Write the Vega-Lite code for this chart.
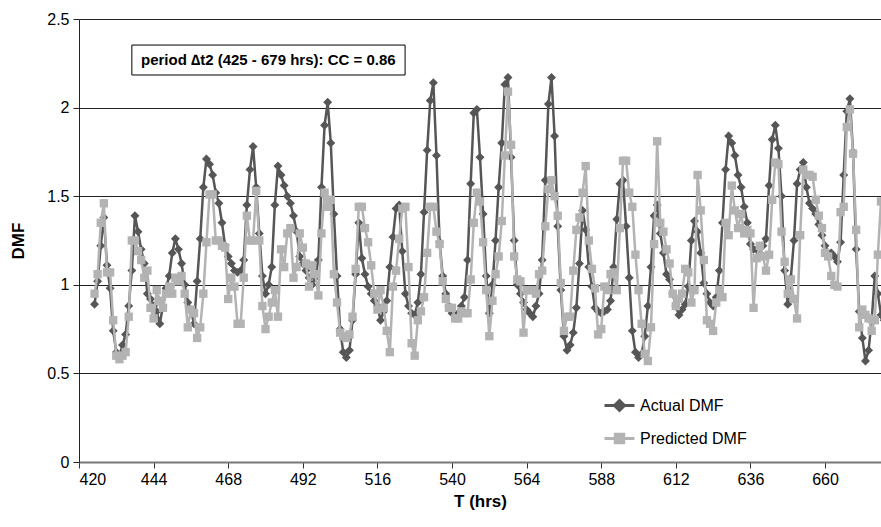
{
"$schema": "https://vega.github.io/schema/vega-lite/v6.json",
"width": 802, "height": 443,
"autosize": {"type": "none"},
"padding": {"left": 79, "top": 19, "right": 0, "bottom": 65},
"config": {"view": {"stroke": null}, "font": "Liberation Sans"},
"datasets": {
"dmf": [
{"t":425,"Actual DMF":0.89,"Predicted DMF":0.95},{"t":426,"Actual DMF":1.02,"Predicted DMF":1.06},{"t":427,"Actual DMF":1.22,"Predicted DMF":1.35},{"t":428,"Actual DMF":1.38,"Predicted DMF":1.46},{"t":429,"Actual DMF":1.11,"Predicted DMF":1.07},{"t":430,"Actual DMF":0.98,"Predicted DMF":1.07},{"t":431,"Actual DMF":0.74,"Predicted DMF":0.80},{"t":432,"Actual DMF":0.62,"Predicted DMF":0.60},{"t":433,"Actual DMF":0.60,"Predicted DMF":0.58},{"t":434,"Actual DMF":0.66,"Predicted DMF":0.60},
{"t":435,"Actual DMF":0.72,"Predicted DMF":0.62},{"t":436,"Actual DMF":0.88,"Predicted DMF":0.82},{"t":437,"Actual DMF":1.08,"Predicted DMF":1.25},{"t":438,"Actual DMF":1.39,"Predicted DMF":1.25},{"t":439,"Actual DMF":1.30,"Predicted DMF":1.19},{"t":440,"Actual DMF":1.20,"Predicted DMF":1.14},{"t":441,"Actual DMF":1.12,"Predicted DMF":1.04},{"t":442,"Actual DMF":0.95,"Predicted DMF":1.08},{"t":443,"Actual DMF":0.92,"Predicted DMF":0.87},{"t":444,"Actual DMF":0.88,"Predicted DMF":0.81},
{"t":445,"Actual DMF":0.85,"Predicted DMF":0.97},{"t":446,"Actual DMF":0.78,"Predicted DMF":0.91},{"t":447,"Actual DMF":0.88,"Predicted DMF":0.87},{"t":448,"Actual DMF":0.98,"Predicted DMF":0.95},{"t":449,"Actual DMF":1.05,"Predicted DMF":0.99},{"t":450,"Actual DMF":1.18,"Predicted DMF":0.95},{"t":451,"Actual DMF":1.26,"Predicted DMF":1.04},{"t":452,"Actual DMF":1.20,"Predicted DMF":1.02},{"t":453,"Actual DMF":1.12,"Predicted DMF":1.05},{"t":454,"Actual DMF":1.00,"Predicted DMF":0.95},
{"t":455,"Actual DMF":0.90,"Predicted DMF":0.76},{"t":456,"Actual DMF":0.86,"Predicted DMF":0.86},{"t":457,"Actual DMF":0.78,"Predicted DMF":0.84},{"t":458,"Actual DMF":1.02,"Predicted DMF":0.70},{"t":459,"Actual DMF":1.26,"Predicted DMF":0.76},{"t":460,"Actual DMF":1.55,"Predicted DMF":0.95},{"t":461,"Actual DMF":1.71,"Predicted DMF":1.24},{"t":462,"Actual DMF":1.68,"Predicted DMF":1.51},{"t":463,"Actual DMF":1.62,"Predicted DMF":1.51},{"t":464,"Actual DMF":1.52,"Predicted DMF":1.25},
{"t":465,"Actual DMF":1.46,"Predicted DMF":1.25},{"t":466,"Actual DMF":1.35,"Predicted DMF":1.22},{"t":467,"Actual DMF":1.22,"Predicted DMF":1.21},{"t":468,"Actual DMF":1.16,"Predicted DMF":0.92},{"t":469,"Actual DMF":1.12,"Predicted DMF":1.04},{"t":470,"Actual DMF":1.08,"Predicted DMF":0.99},{"t":471,"Actual DMF":1.07,"Predicted DMF":0.78},{"t":472,"Actual DMF":1.08,"Predicted DMF":0.78},{"t":473,"Actual DMF":1.14,"Predicted DMF":1.04},{"t":474,"Actual DMF":1.45,"Predicted DMF":1.39},
{"t":475,"Actual DMF":1.65,"Predicted DMF":1.25},{"t":476,"Actual DMF":1.78,"Predicted DMF":1.25},{"t":477,"Actual DMF":1.55,"Predicted DMF":1.53},{"t":478,"Actual DMF":1.29,"Predicted DMF":1.25},{"t":479,"Actual DMF":1.05,"Predicted DMF":0.88},{"t":480,"Actual DMF":0.95,"Predicted DMF":0.75},{"t":481,"Actual DMF":1.00,"Predicted DMF":0.82},{"t":482,"Actual DMF":1.10,"Predicted DMF":0.90},{"t":483,"Actual DMF":1.45,"Predicted DMF":0.97},{"t":484,"Actual DMF":1.67,"Predicted DMF":0.82},
{"t":485,"Actual DMF":1.62,"Predicted DMF":1.20},{"t":486,"Actual DMF":1.56,"Predicted DMF":1.10},{"t":487,"Actual DMF":1.50,"Predicted DMF":1.29},{"t":488,"Actual DMF":1.46,"Predicted DMF":1.32},{"t":489,"Actual DMF":1.39,"Predicted DMF":1.04},{"t":490,"Actual DMF":1.30,"Predicted DMF":1.10},{"t":491,"Actual DMF":1.16,"Predicted DMF":1.29},{"t":492,"Actual DMF":1.12,"Predicted DMF":1.21},{"t":493,"Actual DMF":1.08,"Predicted DMF":1.12},{"t":494,"Actual DMF":1.04,"Predicted DMF":0.99},
{"t":495,"Actual DMF":1.00,"Predicted DMF":1.11},{"t":496,"Actual DMF":1.04,"Predicted DMF":1.06},{"t":497,"Actual DMF":1.14,"Predicted DMF":0.94},{"t":498,"Actual DMF":1.55,"Predicted DMF":1.29},{"t":499,"Actual DMF":1.90,"Predicted DMF":1.52},{"t":500,"Actual DMF":2.03,"Predicted DMF":1.44},{"t":501,"Actual DMF":1.80,"Predicted DMF":1.48},{"t":502,"Actual DMF":1.40,"Predicted DMF":1.06},{"t":503,"Actual DMF":1.05,"Predicted DMF":0.90},{"t":504,"Actual DMF":0.75,"Predicted DMF":0.73},
{"t":505,"Actual DMF":0.62,"Predicted DMF":0.71},{"t":506,"Actual DMF":0.59,"Predicted DMF":0.70},{"t":507,"Actual DMF":0.63,"Predicted DMF":0.72},{"t":508,"Actual DMF":0.80,"Predicted DMF":0.82},{"t":509,"Actual DMF":1.06,"Predicted DMF":1.09},{"t":510,"Actual DMF":1.35,"Predicted DMF":1.44},{"t":511,"Actual DMF":1.15,"Predicted DMF":1.44},{"t":512,"Actual DMF":1.06,"Predicted DMF":1.32},{"t":513,"Actual DMF":0.99,"Predicted DMF":1.24},{"t":514,"Actual DMF":0.95,"Predicted DMF":1.11},
{"t":515,"Actual DMF":0.91,"Predicted DMF":0.95},{"t":516,"Actual DMF":0.88,"Predicted DMF":0.86},{"t":517,"Actual DMF":0.80,"Predicted DMF":0.97},{"t":518,"Actual DMF":0.85,"Predicted DMF":0.87},{"t":519,"Actual DMF":0.91,"Predicted DMF":0.74},{"t":520,"Actual DMF":1.10,"Predicted DMF":0.62},{"t":521,"Actual DMF":1.27,"Predicted DMF":0.99},{"t":522,"Actual DMF":1.43,"Predicted DMF":1.08},{"t":523,"Actual DMF":1.45,"Predicted DMF":1.26},{"t":524,"Actual DMF":1.19,"Predicted DMF":1.43},
{"t":525,"Actual DMF":0.95,"Predicted DMF":1.44},{"t":526,"Actual DMF":0.88,"Predicted DMF":1.10},{"t":527,"Actual DMF":0.84,"Predicted DMF":0.67},{"t":528,"Actual DMF":0.83,"Predicted DMF":0.60},{"t":529,"Actual DMF":0.90,"Predicted DMF":0.80},{"t":530,"Actual DMF":1.06,"Predicted DMF":0.85},{"t":531,"Actual DMF":1.41,"Predicted DMF":0.93},{"t":532,"Actual DMF":1.76,"Predicted DMF":1.18},{"t":533,"Actual DMF":2.04,"Predicted DMF":1.44},{"t":534,"Actual DMF":2.14,"Predicted DMF":1.44},
{"t":535,"Actual DMF":1.73,"Predicted DMF":1.30},{"t":536,"Actual DMF":1.24,"Predicted DMF":1.23},{"t":537,"Actual DMF":1.05,"Predicted DMF":1.02},{"t":538,"Actual DMF":0.95,"Predicted DMF":0.92},{"t":539,"Actual DMF":0.88,"Predicted DMF":0.87},{"t":540,"Actual DMF":0.84,"Predicted DMF":0.87},{"t":541,"Actual DMF":0.82,"Predicted DMF":0.81},{"t":542,"Actual DMF":0.84,"Predicted DMF":0.81},{"t":543,"Actual DMF":0.88,"Predicted DMF":0.85},{"t":544,"Actual DMF":0.93,"Predicted DMF":0.84},
{"t":545,"Actual DMF":1.14,"Predicted DMF":0.84},{"t":546,"Actual DMF":1.57,"Predicted DMF":1.03},{"t":547,"Actual DMF":1.97,"Predicted DMF":1.35},{"t":548,"Actual DMF":1.99,"Predicted DMF":1.52},{"t":549,"Actual DMF":1.72,"Predicted DMF":1.47},{"t":550,"Actual DMF":1.40,"Predicted DMF":1.24},{"t":551,"Actual DMF":1.05,"Predicted DMF":0.97},{"t":552,"Actual DMF":0.84,"Predicted DMF":0.71},{"t":553,"Actual DMF":1.00,"Predicted DMF":0.91},{"t":554,"Actual DMF":1.25,"Predicted DMF":1.06},
{"t":555,"Actual DMF":1.55,"Predicted DMF":1.16},{"t":556,"Actual DMF":1.80,"Predicted DMF":1.36},{"t":557,"Actual DMF":2.13,"Predicted DMF":1.73},{"t":558,"Actual DMF":2.17,"Predicted DMF":2.09},{"t":559,"Actual DMF":1.72,"Predicted DMF":1.79},{"t":560,"Actual DMF":1.25,"Predicted DMF":1.16},{"t":561,"Actual DMF":1.00,"Predicted DMF":1.03},{"t":562,"Actual DMF":0.95,"Predicted DMF":1.02},{"t":563,"Actual DMF":0.90,"Predicted DMF":0.73},{"t":564,"Actual DMF":0.86,"Predicted DMF":0.97},
{"t":565,"Actual DMF":0.84,"Predicted DMF":0.97},{"t":566,"Actual DMF":0.82,"Predicted DMF":0.97},{"t":567,"Actual DMF":0.88,"Predicted DMF":0.95},{"t":568,"Actual DMF":0.95,"Predicted DMF":1.06},{"t":569,"Actual DMF":1.14,"Predicted DMF":1.08},{"t":570,"Actual DMF":1.59,"Predicted DMF":1.33},{"t":571,"Actual DMF":2.02,"Predicted DMF":1.54},{"t":572,"Actual DMF":2.17,"Predicted DMF":1.59},{"t":573,"Actual DMF":1.84,"Predicted DMF":1.50},{"t":574,"Actual DMF":1.33,"Predicted DMF":1.39},
{"t":575,"Actual DMF":0.97,"Predicted DMF":1.01},{"t":576,"Actual DMF":0.71,"Predicted DMF":0.74},{"t":577,"Actual DMF":0.63,"Predicted DMF":0.82},{"t":578,"Actual DMF":0.66,"Predicted DMF":0.82},{"t":579,"Actual DMF":0.73,"Predicted DMF":1.08},{"t":580,"Actual DMF":0.87,"Predicted DMF":1.31},{"t":581,"Actual DMF":1.12,"Predicted DMF":1.38},{"t":582,"Actual DMF":1.42,"Predicted DMF":1.52},{"t":583,"Actual DMF":1.31,"Predicted DMF":1.67},{"t":584,"Actual DMF":1.10,"Predicted DMF":1.25},
{"t":585,"Actual DMF":0.99,"Predicted DMF":1.09},{"t":586,"Actual DMF":0.87,"Predicted DMF":0.98},{"t":587,"Actual DMF":0.85,"Predicted DMF":0.72},{"t":588,"Actual DMF":0.84,"Predicted DMF":0.75},{"t":589,"Actual DMF":0.85,"Predicted DMF":0.99},{"t":590,"Actual DMF":0.86,"Predicted DMF":0.97},{"t":591,"Actual DMF":0.91,"Predicted DMF":1.06},{"t":592,"Actual DMF":1.10,"Predicted DMF":1.07},{"t":593,"Actual DMF":1.37,"Predicted DMF":0.97},{"t":594,"Actual DMF":1.57,"Predicted DMF":1.32},
{"t":595,"Actual DMF":1.59,"Predicted DMF":1.70},{"t":596,"Actual DMF":1.33,"Predicted DMF":1.70},{"t":597,"Actual DMF":1.04,"Predicted DMF":1.52},{"t":598,"Actual DMF":0.74,"Predicted DMF":1.44},{"t":599,"Actual DMF":0.62,"Predicted DMF":1.17},{"t":600,"Actual DMF":0.59,"Predicted DMF":0.97},{"t":601,"Actual DMF":0.61,"Predicted DMF":0.78},{"t":602,"Actual DMF":0.71,"Predicted DMF":0.61},{"t":603,"Actual DMF":0.88,"Predicted DMF":0.57},{"t":604,"Actual DMF":1.10,"Predicted DMF":0.76},
{"t":605,"Actual DMF":1.39,"Predicted DMF":1.23},{"t":606,"Actual DMF":1.45,"Predicted DMF":1.81},{"t":607,"Actual DMF":1.29,"Predicted DMF":1.35},{"t":608,"Actual DMF":1.18,"Predicted DMF":1.30},{"t":609,"Actual DMF":1.06,"Predicted DMF":1.20},{"t":610,"Actual DMF":1.03,"Predicted DMF":1.12},{"t":611,"Actual DMF":0.95,"Predicted DMF":0.95},{"t":612,"Actual DMF":0.88,"Predicted DMF":0.88},{"t":613,"Actual DMF":0.83,"Predicted DMF":0.92},{"t":614,"Actual DMF":0.86,"Predicted DMF":0.95},
{"t":615,"Actual DMF":0.89,"Predicted DMF":1.09},{"t":616,"Actual DMF":0.99,"Predicted DMF":1.07},{"t":617,"Actual DMF":1.25,"Predicted DMF":0.90},{"t":618,"Actual DMF":1.36,"Predicted DMF":0.97},{"t":619,"Actual DMF":1.30,"Predicted DMF":1.62},{"t":620,"Actual DMF":1.18,"Predicted DMF":1.42},{"t":621,"Actual DMF":1.01,"Predicted DMF":1.14},{"t":622,"Actual DMF":0.95,"Predicted DMF":0.80},{"t":623,"Actual DMF":0.90,"Predicted DMF":0.78},{"t":624,"Actual DMF":0.88,"Predicted DMF":0.74},
{"t":625,"Actual DMF":0.93,"Predicted DMF":0.90},{"t":626,"Actual DMF":1.08,"Predicted DMF":0.97},{"t":627,"Actual DMF":1.35,"Predicted DMF":0.93},{"t":628,"Actual DMF":1.65,"Predicted DMF":1.35},{"t":629,"Actual DMF":1.84,"Predicted DMF":1.28},{"t":630,"Actual DMF":1.80,"Predicted DMF":1.56},{"t":631,"Actual DMF":1.73,"Predicted DMF":1.42},{"t":632,"Actual DMF":1.62,"Predicted DMF":1.32},{"t":633,"Actual DMF":1.55,"Predicted DMF":1.40},{"t":634,"Actual DMF":1.44,"Predicted DMF":1.29},
{"t":635,"Actual DMF":1.35,"Predicted DMF":1.31},{"t":636,"Actual DMF":1.23,"Predicted DMF":1.29},{"t":637,"Actual DMF":1.20,"Predicted DMF":0.87},{"t":638,"Actual DMF":1.20,"Predicted DMF":1.15},{"t":639,"Actual DMF":1.18,"Predicted DMF":1.22},{"t":640,"Actual DMF":1.22,"Predicted DMF":1.16},{"t":641,"Actual DMF":1.26,"Predicted DMF":1.08},{"t":642,"Actual DMF":1.56,"Predicted DMF":1.17},{"t":643,"Actual DMF":1.82,"Predicted DMF":1.48},{"t":644,"Actual DMF":1.90,"Predicted DMF":1.69},
{"t":645,"Actual DMF":1.77,"Predicted DMF":1.68},{"t":646,"Actual DMF":1.50,"Predicted DMF":1.30},{"t":647,"Actual DMF":1.08,"Predicted DMF":1.13},{"t":648,"Actual DMF":0.89,"Predicted DMF":0.95},{"t":649,"Actual DMF":1.04,"Predicted DMF":1.03},{"t":650,"Actual DMF":1.25,"Predicted DMF":0.92},{"t":651,"Actual DMF":1.57,"Predicted DMF":0.81},{"t":652,"Actual DMF":1.65,"Predicted DMF":1.28},{"t":653,"Actual DMF":1.69,"Predicted DMF":1.65},{"t":654,"Actual DMF":1.55,"Predicted DMF":1.62},
{"t":655,"Actual DMF":1.46,"Predicted DMF":1.62},{"t":656,"Actual DMF":1.43,"Predicted DMF":1.61},{"t":657,"Actual DMF":1.40,"Predicted DMF":1.48},{"t":658,"Actual DMF":1.34,"Predicted DMF":1.39},{"t":659,"Actual DMF":1.28,"Predicted DMF":1.32},{"t":660,"Actual DMF":1.22,"Predicted DMF":1.18},{"t":661,"Actual DMF":1.18,"Predicted DMF":1.16},{"t":662,"Actual DMF":1.18,"Predicted DMF":1.05},{"t":663,"Actual DMF":1.16,"Predicted DMF":1.00},{"t":664,"Actual DMF":1.13,"Predicted DMF":0.99},
{"t":665,"Actual DMF":1.24,"Predicted DMF":1.41},{"t":666,"Actual DMF":1.62,"Predicted DMF":1.44},{"t":667,"Actual DMF":1.98,"Predicted DMF":1.89},{"t":668,"Actual DMF":2.05,"Predicted DMF":1.99},{"t":669,"Actual DMF":1.75,"Predicted DMF":1.74},{"t":670,"Actual DMF":1.20,"Predicted DMF":1.31},{"t":671,"Actual DMF":0.85,"Predicted DMF":0.76},{"t":672,"Actual DMF":0.70,"Predicted DMF":0.86},{"t":673,"Actual DMF":0.57,"Predicted DMF":0.83},{"t":674,"Actual DMF":0.63,"Predicted DMF":0.81},
{"t":675,"Actual DMF":0.80,"Predicted DMF":0.74},{"t":676,"Actual DMF":1.05,"Predicted DMF":0.80},{"t":677,"Actual DMF":0.95,"Predicted DMF":1.17},{"t":678,"Actual DMF":0.83,"Predicted DMF":1.47},{"t":679,"Actual DMF":0.80,"Predicted DMF":1.47}
],
"note": [{"x1": 437.0, "x2": 524.9, "y1": 2.184, "y2": 2.353, "xm": 480.9, "ym": 2.269, "label": "period ∆t2 (425 - 679 hrs): CC = 0.86"}]
},
"layer": [
{
"data": {"name": "dmf"},
"transform": [{"fold": ["Actual DMF", "Predicted DMF"], "as": ["series", "value"]}],
"encoding": {
"x": {"field": "t", "type": "quantitative",
 "scale": {"domain": [420, 678], "nice": false, "zero": false},
 "axis": {"title": "T (hrs)", "values": [420,444,468,492,516,540,564,588,612,636,660], "grid": false,
  "tickSize": 6, "tickColor": "#333333", "domainColor": "#777777", "domainWidth": 2,
  "labelFont": "Liberation Sans", "labelFontSize": 16, "labelColor": "#000000", "labelPadding": 3,
  "titleFont": "Liberation Sans", "titleFontSize": 17, "titleFontWeight": "bold", "titleColor": "#000000", "titlePadding": 6}},
"y": {"field": "value", "type": "quantitative",
 "scale": {"domain": [0, 2.5], "nice": false, "zero": true},
 "axis": {"title": "DMF", "values": [0,0.5,1,1.5,2,2.5], "format": "~g", "grid": true, "gridColor": "#222222", "gridWidth": 1,
  "tickSize": 6, "tickColor": "#222222", "domainColor": "#222222", "domainWidth": 1,
  "labelFont": "Liberation Sans", "labelFontSize": 16, "labelColor": "#000000", "labelPadding": 4,
  "titleFont": "Liberation Sans", "titleFontSize": 17, "titleFontWeight": "bold", "titleColor": "#000000", "titlePadding": 19}},
"color": {"field": "series", "type": "nominal",
 "scale": {"domain": ["Actual DMF", "Predicted DMF"], "range": ["#565656", "#b3b3b3"]},
 "legend": {"orient": "none", "legendX": 524, "legendY": 370, "title": null, "direction": "vertical",
  "symbolSize": 900, "labelFontSize": 16, "labelFont": "Liberation Sans", "labelColor": "#000000", "labelOffset": 4, "rowPadding": 5,
  "encode": {"symbols": {"update": {
   "shape": {"signal": "datum.value == 'Actual DMF' ? 'M-1,0L1,0M0,-0.33L0.33,0L0,0.33L-0.33,0Z' : 'M-1,0L1,0M-0.28,-0.28L0.28,-0.28L0.28,0.28L-0.28,0.28Z'"},
   "fill": {"signal": "datum.value == 'Actual DMF' ? '#565656' : '#b3b3b3'"},
   "stroke": {"signal": "datum.value == 'Actual DMF' ? '#565656' : '#b3b3b3'"},
   "strokeWidth": {"value": 3}, "opacity": {"value": 1}, "fillOpacity": {"value": 1}, "strokeOpacity": {"value": 1}}}}}}
},
"layer": [
{"transform": [{"filter": "datum.series == 'Actual DMF'"}], "mark": {"type": "line", "strokeWidth": 2.5, "clip": true}},
{"transform": [{"filter": "datum.series == 'Actual DMF'"}], "mark": {"type": "point", "shape": "diamond", "filled": true, "opacity": 1, "size": 80, "clip": true}},
{"transform": [{"filter": "datum.series == 'Predicted DMF'"}], "mark": {"type": "line", "strokeWidth": 2.5, "clip": true}},
{"transform": [{"filter": "datum.series == 'Predicted DMF'"}], "mark": {"type": "point", "shape": "square", "filled": true, "opacity": 1, "size": 70, "clip": true}}
]
},
{"data": {"name": "note"}, "mark": {"type": "rect", "fill": "#ffffff", "stroke": "#000000", "strokeWidth": 1},
 "encoding": {"x": {"field": "x1", "type": "quantitative"}, "x2": {"field": "x2"}, "y": {"field": "y1", "type": "quantitative"}, "y2": {"field": "y2"}}},
{"data": {"name": "note"}, "mark": {"type": "text", "fontWeight": "bold", "fontSize": 15, "font": "Liberation Sans", "color": "#000000", "align": "center", "baseline": "middle"},
 "encoding": {"x": {"field": "xm", "type": "quantitative"}, "y": {"field": "ym", "type": "quantitative"}, "text": {"field": "label"}}}
]
}
